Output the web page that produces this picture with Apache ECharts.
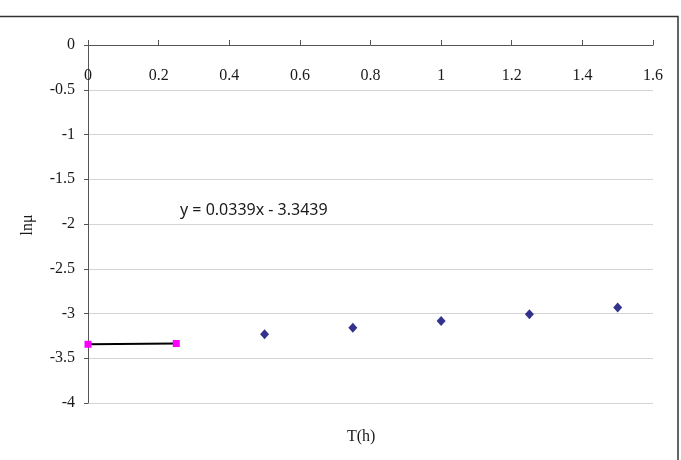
<!DOCTYPE html>
<html>
<head>
<meta charset="utf-8">
<script src="https://cdn.jsdelivr.net/npm/echarts@6/dist/echarts.min.js"></script>
<style>
  html, body { margin: 0; padding: 0; background: #fff; }
  #echarts { width: 681px; height: 460px; }
</style>
</head>
<body>
<div id="echarts"></div>
<script>
// data
const trendX = [0, 0.25];
const trendY = [-3.3439, -3.3354];
const obsX = [0.5, 0.75, 1, 1.25, 1.5];
const obsY = [-3.232, -3.158, -3.085, -3.007, -2.934];
const equation = 'y = 0.0339x - 3.3439';

const chartDom = document.getElementById('echarts');
const myChart = echarts.init(chartDom);

const serif = '"Liberation Serif", "DejaVu Serif", serif';

const option = {
  animation: false,
  backgroundColor: '#fff',
  grid: { left: 88, right: 28, top: 45, bottom: 57 },
  xAxis: {
    type: 'value',
    position: 'top',
    min: 0, max: 1.6, interval: 0.2,
    axisLine: { show: true, onZero: false, lineStyle: { color: '#555', width: 1 } },
    axisTick: { show: true, inside: false, length: 5, lineStyle: { color: '#555' } },
    axisLabel: { inside: true, margin: 23, color: '#1a1a1a', fontFamily: serif, fontSize: 16 },
    splitLine: { show: false }
  },
  yAxis: {
    type: 'value',
    min: -4, max: 0, interval: 0.5,
    axisLine: { show: true, lineStyle: { color: '#555', width: 1 } },
    axisTick: { show: true, length: 4, lineStyle: { color: '#555' } },
    axisLabel: { margin: 13, color: '#1a1a1a', fontFamily: serif, fontSize: 16 },
    splitLine: { show: true, lineStyle: { color: '#d4d4d4', width: 1 } }
  },
  series: [
    {
      type: 'line',
      data: trendX.map((x, i) => [x, trendY[i]]),
      symbol: 'rect',
      symbolSize: 7,
      lineStyle: { color: '#000', width: 2 },
      itemStyle: { color: '#ff00ff' },
      z: 3
    },
    {
      type: 'scatter',
      data: obsX.map((x, i) => [x, obsY[i]]),
      symbol: 'diamond',
      symbolSize: [9, 10],
      itemStyle: { color: '#000070' }
    }
  ],
  graphic: [
    {
      type: 'rect',
      shape: { x: -2, y: 16.5, width: 680, height: 460 },
      style: { fill: 'none', stroke: '#333', lineWidth: 1.5 },
      silent: true
    },
    {
      type: 'text',
      left: 180, top: 202,
      style: { text: equation, font: '16px "Noto Sans", sans-serif', fill: '#1a1a1a' }
    },
    {
      type: 'text',
      left: 347, top: 429,
      style: { text: 'T(h)', font: '16px ' + serif, fill: '#1a1a1a' }
    },
    {
      type: 'text',
      x: 28, y: 225,
      rotation: Math.PI / 2,
      style: { text: 'lnμ', font: '16px ' + serif, fill: '#1a1a1a', align: 'center', verticalAlign: 'middle' }
    }
  ]
};

myChart.setOption(option);
</script>
</body>
</html>
